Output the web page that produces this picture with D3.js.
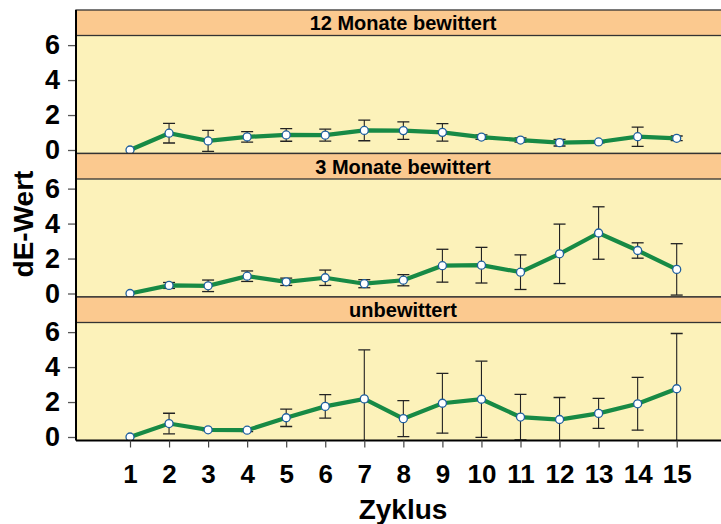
<!DOCTYPE html>
<head>
  <meta charset="utf-8">
  <script src="https://cdn.jsdelivr.net/npm/d3@7"></script>
  <style>
    body { margin: 0; background: white; }
    text { font-family: "Liberation Sans", Arial, sans-serif; font-weight: bold; fill: black; }
  </style>
</head>
<body>
<script>
// cycles on the x axis
const cycles = d3.range(1, 16);
const panelTitles = ["12 Monate bewittert", "3 Monate bewittert", "unbewittert"];

// mean dE per cycle and panel
const mean12 = [0, 0.96, 0.52, 0.75, 0.86, 0.85, 1.12, 1.11, 1.01, 0.74, 0.57, 0.42, 0.46, 0.76, 0.67];
const mean3 = [0, 0.46, 0.44, 0.99, 0.67, 0.9, 0.56, 0.76, 1.59, 1.62, 1.22, 2.27, 3.46, 2.46, 1.38];
const meanU = [0, 0.77, 0.41, 0.39, 1.1, 1.75, 2.18, 1.05, 1.93, 2.16, 1.14, 1.0, 1.35, 1.9, 2.76];

// standard deviation (error bars)
const sd12 = [0, 0.56, 0.6, 0.3, 0.36, 0.34, 0.59, 0.5, 0.5, 0.13, 0.12, 0.19, 0.05, 0.55, 0.13];
const sd3 = [0, 0.17, 0.33, 0.3, 0.21, 0.44, 0.23, 0.32, 0.94, 1.02, 0.99, 1.7, 1.5, 0.44, 1.47];
const sdU = [0, 0.59, 0.05, 0.08, 0.5, 0.67, 2.8, 1.03, 1.71, 2.18, 1.3, 1.26, 0.86, 1.51, 3.16];

const yTicks = [0, 2, 4, 6];

const panels = [
  { title: panelTitles[0], mean: mean12, sd: sd12 },
  { title: panelTitles[1], mean: mean3, sd: sd3 },
  { title: panelTitles[2], mean: meanU, sd: sdU }
];

const W = 721, H = 524;
const left = 76, right = 730, top0 = 10;
const stripH = 25.5, plotH = 118, panelH = stripH + plotH;

const svg = d3.select("body").append("svg").attr("width", W).attr("height", H);

const x = d3.scaleLinear().domain([1, 15]).range([130, 676.7]);

panels.forEach((p, i) => {
  const t = top0 + i * panelH;
  const pt = t + stripH, pb = t + panelH;
  const y = d3.scaleLinear().domain([-0.2, 6.55]).range([pb, pt]);
  const g = svg.append("g");
  const clipId = "clip" + i;
  svg.append("clipPath").attr("id", clipId)
    .append("rect").attr("x", left).attr("y", pt).attr("width", right - left).attr("height", plotH);

  g.append("rect").attr("x", left).attr("y", pt).attr("width", right - left).attr("height", plotH)
    .attr("fill", "#fcf2ba");
  g.append("rect").attr("x", left).attr("y", t).attr("width", right - left).attr("height", stripH)
    .attr("fill", "#fbc98f").attr("stroke", "#333").attr("stroke-width", 1.3);
  g.append("text").attr("x", (left + right) / 2).attr("y", t + 20)
    .attr("text-anchor", "middle").attr("font-size", 20).text(p.title);

  const data = cycles.map((c, j) => ({ c: c, m: p.mean[j], s: p.sd[j] }));
  const inner = g.append("g").attr("clip-path", `url(#${clipId})`);

  // error bars
  const eb = inner.selectAll("g.eb").data(data.filter(d => d.s > 0)).join("g");
  eb.append("line").attr("x1", d => x(d.c)).attr("x2", d => x(d.c))
    .attr("y1", d => y(d.m - d.s)).attr("y2", d => y(d.m + d.s))
    .attr("stroke", "#222").attr("stroke-width", 1.1);
  eb.selectAll("line.cap").data(d => [[d.c, d.m - d.s], [d.c, d.m + d.s]]).join("line")
    .attr("x1", d => x(d[0]) - 6).attr("x2", d => x(d[0]) + 6)
    .attr("y1", d => y(d[1])).attr("y2", d => y(d[1]))
    .attr("stroke", "#222").attr("stroke-width", 1.3);

  inner.append("path").datum(data)
    .attr("d", d3.line().x(d => x(d.c)).y(d => y(d.m)))
    .attr("fill", "none").attr("stroke", "#178a45").attr("stroke-width", 4.2);

  inner.selectAll("circle").data(data).join("circle")
    .attr("cx", d => x(d.c)).attr("cy", d => y(d.m)).attr("r", 4)
    .attr("fill", "white").attr("stroke", "#1f5f9f").attr("stroke-width", 1.3);

  // y axis
  const ya = g.append("g").attr("transform", `translate(${left},0)`)
    .call(d3.axisLeft(y).tickValues(yTicks).tickFormat(d3.format("d")).tickSize(8).tickPadding(8));
  ya.select(".domain").remove();
  ya.selectAll(".tick line").attr("stroke", "#555").attr("stroke-width", 1.3);
  ya.selectAll(".tick text").attr("font-size", 27).attr("font-family", "Liberation Sans, Arial, sans-serif")
    .attr("font-weight", "bold").attr("fill", "black");

  // bottom line of the panel
  g.append("line").attr("x1", left).attr("x2", right).attr("y1", pb).attr("y2", pb)
    .attr("stroke", i === 2 ? "#000" : "#333").attr("stroke-width", i === 2 ? 2 : 1.3);
});

// left frame
svg.append("line").attr("x1", left).attr("x2", left)
  .attr("y1", top0).attr("y2", top0 + 3 * panelH)
  .attr("stroke", "#000").attr("stroke-width", 2);

// x axis
const xa = svg.append("g").attr("transform", `translate(0,${top0 + 3 * panelH})`)
  .call(d3.axisBottom(x).tickValues(cycles).tickFormat(d3.format("d")).tickSize(7).tickPadding(17));
xa.select(".domain").remove();
xa.selectAll(".tick line").attr("stroke", "#444").attr("stroke-width", 1.2);
xa.selectAll(".tick text").attr("font-size", 26).attr("font-family", "Liberation Sans, Arial, sans-serif")
  .attr("font-weight", "bold").attr("fill", "black");

svg.append("text").attr("x", 403).attr("y", 519).attr("text-anchor", "middle")
  .attr("font-size", 28).text("Zyklus");

svg.append("text").attr("transform", "translate(33,224) rotate(-90)")
  .attr("text-anchor", "middle").attr("font-size", 28).text("dE-Wert");
</script>
</body>
